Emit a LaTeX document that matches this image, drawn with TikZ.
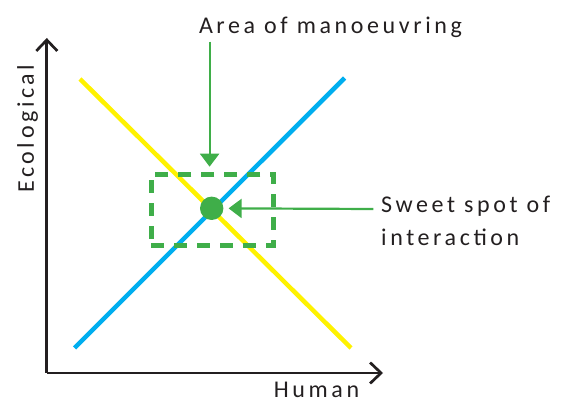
\documentclass[tikz,border=0pt]{standalone}
\usepackage{fontspec}
\setmainfont{Carlito}[LetterSpace=15]
\usetikzlibrary{arrows.meta,positioning}
\definecolor{axisgray}{HTML}{231F20}
\definecolor{lineblue}{HTML}{00AEEF}
\definecolor{lineyellow}{HTML}{FFF200}
\definecolor{spotgreen}{HTML}{3FAE49}
\tikzset{
  axis/.style={draw=axisgray,line width=2.7pt,-{Straight Barb[length=11pt,width=21pt,line width=2.7pt]}},
  trend/.style={line width=4.5pt},
  areabox/.style={draw=spotgreen,line width=5pt,dash pattern=on 13pt off 10pt,minimum width=122.5pt,minimum height=71pt,inner sep=0pt},
  spotdot/.style={circle,fill=spotgreen,minimum size=23.4pt,inner sep=0pt},
  pointer/.style={draw=spotgreen,line width=2.2pt,-{Triangle[length=13pt,width=19pt]},shorten >=5pt},
  lbl/.style={text=axisgray,font=\fontsize{24}{29}\selectfont,inner sep=0pt,anchor=base west},
  every node/.style={font=\small}
}
\begin{document}
\begin{tikzpicture}[x=1pt,y=-1pt]
\useasboundingbox (0,0) rectangle (563,403);
% axes
\coordinate (O) at (46.8,373);
\coordinate (ytip) at (46.8,38);
\coordinate (xtip) at (383,373);
\draw[axis] (O) -- (ytip);
\draw[axis] (O) -- (xtip);
\node[lbl,rotate=90] (ylbl) at (34,193) {Ecological};
\node[lbl] (xlbl) at (273.7,397.5) {Human};
% the two trends
\coordinate (y1) at (80,79);
\coordinate (y2) at (351,348);
\coordinate (b1) at (74.5,348);
\coordinate (b2) at (344.6,78);
\draw[trend,lineyellow] (y1) -- (y2);
\draw[trend,lineblue] (b1) -- (b2);
% area and spot
\node[areabox] (area) at (212.7,209.7) {};
\node[spotdot] (spot) at (211.7,208.3) {};
\node[lbl] (arealbl) at (198.8,34) {Area of manoeuvring};
\node[lbl,align=left] (spotlbl) at (381,246)
  {Sweet spot of\\[4pt]interaction};
\coordinate (areastart) at (209.6,41.7);
\coordinate (spotstart) at (373.4,209);
\draw[pointer] (areastart) -- (areastart |- area.north);
\draw[pointer] (spotstart) -- (spot);
\end{tikzpicture}
\end{document}
